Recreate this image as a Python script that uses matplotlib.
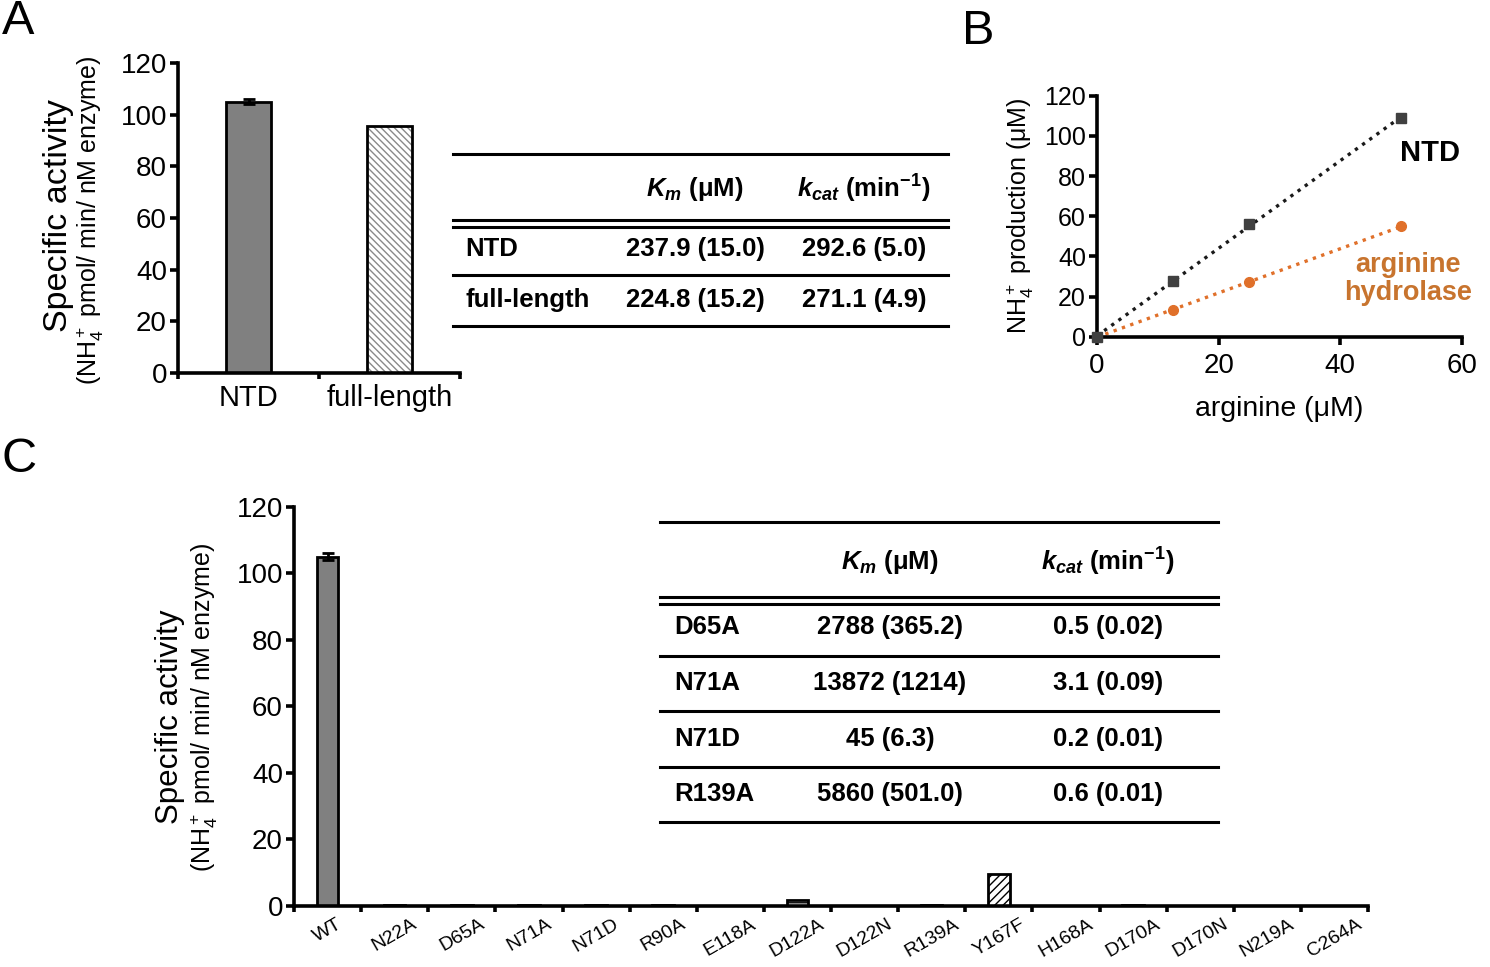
import numpy as np
import matplotlib
matplotlib.use("Agg")
import matplotlib.pyplot as plt

plt.rcParams['font.family'] = ['Liberation Sans', 'DejaVu Sans']
plt.rcParams['mathtext.fontset'] = 'custom'
plt.rcParams['mathtext.rm'] = 'Liberation Sans'
plt.rcParams['mathtext.it'] = 'Liberation Sans:italic:bold'
plt.rcParams['mathtext.bf'] = 'Liberation Sans:bold'
plt.rcParams['hatch.linewidth'] = 1.0

# ---- data ----
a_labels = ['NTD', 'full-length']
a_values = [105, 95.5]
a_errors = [1.0, 0.0]

b_arginine = [0, 12.5, 25, 50]
b_ntd = [0, 27.5, 56, 109]
b_hydrolase = [0, 13.5, 27, 55]

c_labels = ['WT', 'N22A', 'D65A', 'N71A', 'N71D', 'R90A', 'E118A', 'D122A',
            'D122N', 'R139A', 'Y167F', 'H168A', 'D170A', 'D170N', 'N219A', 'C264A']
c_values = [105, 0.3, 0.3, 0.3, 0.3, 0.3, 0, 1.7, 0, 0.4, 9.6, 0, 0.3, 0, 0, 0]
c_errors = [1.0] + [0] * 15

tab_a_rows = ['NTD', 'full-length']
tab_a_km = ['237.9 (15.0)', '224.8 (15.2)']
tab_a_kcat = ['292.6 (5.0)', '271.1 (4.9)']

tab_c_rows = ['D65A', 'N71A', 'N71D', 'R139A']
tab_c_km = ['2788 (365.2)', '13872 (1214)', '45 (6.3)', '5860 (501.0)']
tab_c_kcat = ['0.5 (0.02)', '3.1 (0.09)', '0.2 (0.01)', '0.6 (0.01)']

W, H = 1490, 967
fig = plt.figure(figsize=(W / 100, H / 100), dpi=100)


def px_axes(x0, x1, y_top, y_bot, **kw):
    return fig.add_axes([x0 / W, 1 - y_bot / H, (x1 - x0) / W, (y_bot - y_top) / H], **kw)


def style(ax, fs):
    for s in ['top', 'right']:
        ax.spines[s].set_visible(False)
    for s in ['left', 'bottom']:
        ax.spines[s].set_linewidth(2.6)
    ax.tick_params(axis='y', width=2.6, length=6, labelsize=fs, pad=2)
    ax.tick_params(axis='x', width=2.6, length=4, labelsize=fs)


# ---- panel A ----
axA = px_axes(178, 460, 63, 373)
xa = np.arange(len(a_labels))
axA.bar(xa[0], a_values[0], width=0.32, color='#808080', edgecolor='black',
        linewidth=2, yerr=a_errors[0], capsize=4, error_kw=dict(elinewidth=2, capthick=2))
axA.bar(xa[1], a_values[1], width=0.32, color='white', edgecolor='#8a8a8a',
        linewidth=0, hatch='\\\\\\\\\\')
axA.bar(xa[1], a_values[1], width=0.32, color='none', edgecolor='black', linewidth=2)
axA.set_xlim(-0.5, 1.5)
axA.set_ylim(0, 120)
axA.set_yticks(range(0, 121, 20))
axA.set_xticks([-0.5, 0.5, 1.5])
axA.set_xticklabels([])
axA.set_xticks(xa, minor=True)
axA.set_xticklabels(a_labels, minor=True)
style(axA, 20)
axA.tick_params(axis='x', which='minor', length=0, labelsize=21, pad=8)
fig.text(58 / W, 1 - 216 / H, 'Specific activity', rotation=90, ha='center', va='center', fontsize=24.5)
fig.text(90 / W, 1 - 220 / H, '(NH$_4^+$ pmol/ min/ nM enzyme)', rotation=90,
         ha='center', va='center', fontsize=18)

# ---- panel B ----
axB = px_axes(1097, 1462, 95.7, 336.7)
xfit = np.array([0, 50])
k1 = np.polyfit(b_arginine, b_ntd, 1)
k2 = np.polyfit(b_arginine, b_hydrolase, 1)
axB.plot(xfit, np.polyval(k2, xfit), ':', color='#e0702a', lw=2.4, zorder=2)
axB.plot(xfit, np.polyval(k1, xfit), ':', color='#1a1a1a', lw=2.4, zorder=2)
axB.plot(b_arginine, b_hydrolase, 'o', color='#e0702a', ms=7, zorder=3, clip_on=False)
axB.plot(b_arginine, b_ntd, 's', color='#404040', ms=7, zorder=4, clip_on=False)
axB.set_xlim(0, 60)
axB.set_ylim(0, 120)
axB.set_xticks(range(0, 61, 20))
axB.set_yticks(range(0, 121, 20))
style(axB, 18)
axB.tick_params(axis='x', length=6, labelsize=20, pad=6)
axB.text(54.7, 91.5, 'NTD', fontsize=21, fontweight='bold', ha='center', va='center')
axB.text(51.2, 28.5, 'arginine\nhydrolase', fontsize=19.5, fontweight='bold', color='#c8742e',
         ha='center', va='center', linespacing=1.1)
axB.set_xlabel('arginine (μM)', fontsize=20.5, labelpad=12)
axB.set_ylabel('NH$_4^+$ production (μM)', fontsize=18, labelpad=6)

# ---- panel C ----
axC = px_axes(294, 1368, 506.7, 906)
xc = np.arange(len(c_labels))
styles = {7: dict(color='white', hatch='---'), 10: dict(color='white', hatch='////')}
for i, v in enumerate(c_values):
    if v <= 0:
        continue
    st = styles.get(i, dict(color='#808080', hatch=None))
    axC.bar(xc[i], v, width=0.32, color=st['color'], hatch=st['hatch'],
            edgecolor='black', linewidth=2,
            yerr=c_errors[i] if c_errors[i] else None, capsize=4,
            error_kw=dict(elinewidth=2, capthick=2))
axC.set_xlim(-0.5, len(c_labels) - 0.5)
axC.set_ylim(0, 120)
axC.set_yticks(range(0, 121, 20))
axC.set_xticks(np.arange(-0.5, len(c_labels), 1.0))
axC.set_xticklabels([])
axC.set_xticks(xc, minor=True)
axC.set_xticklabels(c_labels, minor=True, rotation=30, ha='center')
style(axC, 20)
axC.tick_params(axis='x', which='minor', length=0, labelsize=14, pad=7)
fig.text(170 / W, 1 - 717 / H, 'Specific activity', rotation=90, ha='center', va='center', fontsize=22.5)
fig.text(204 / W, 1 - 707 / H, '(NH$_4^+$ pmol/ min/ nM enzyme)', rotation=90,
         ha='center', va='center', fontsize=18)

# ---- tables (overlay in pixel coords) ----
ov = fig.add_axes([0, 0, 1, 1], facecolor='none')
ov.set_xlim(0, W)
ov.set_ylim(H, 0)
ov.axis('off')


def draw_table(x0, x1, y_top, y_hdr, y_dbl, row_ys, line_ys, x_row, x_km, x_kcat,
               rows, km, kcat):
    lw = 2.2
    fs = 18.5
    ov.plot([x0, x1], [y_top, y_top], color='black', lw=lw)
    ov.plot([x0, x1], [y_dbl, y_dbl], color='black', lw=lw)
    ov.plot([x0, x1], [y_dbl + 7, y_dbl + 7], color='black', lw=lw)
    for y in line_ys:
        ov.plot([x0, x1], [y, y], color='black', lw=lw)
    ov.text(x_km, y_hdr, r'$K_m$ (μM)', fontsize=fs, fontweight='bold', ha='center', va='center')
    ov.text(x_kcat, y_hdr, r'$k_{cat}$ (min$^{\mathbf{-1}}$)', fontsize=fs, fontweight='bold',
            ha='center', va='center')
    for r, a, b, y in zip(rows, km, kcat, row_ys):
        ov.text(x_row, y, r, fontsize=fs, fontweight='bold', ha='left', va='center')
        ov.text(x_km, y, a, fontsize=fs, fontweight='bold', ha='center', va='center')
        ov.text(x_kcat, y, b, fontsize=fs, fontweight='bold', ha='center', va='center')


draw_table(453, 948, 154, 189, 220, [249, 300], [275, 326], 465, 695, 864,
           tab_a_rows, tab_a_km, tab_a_kcat)
draw_table(660, 1218, 522, 562, 597, [627, 683, 739, 794], [656, 711, 767, 822],
           674, 890, 1108, tab_c_rows, tab_c_km, tab_c_kcat)

# panel letters
for lab, x, y in [('A', 2, 22), ('B', 962, 32), ('C', 2, 460)]:
    ov.text(x, y, lab, fontsize=35, ha='left', va='center')

fig.savefig('out.png', dpi=100)
